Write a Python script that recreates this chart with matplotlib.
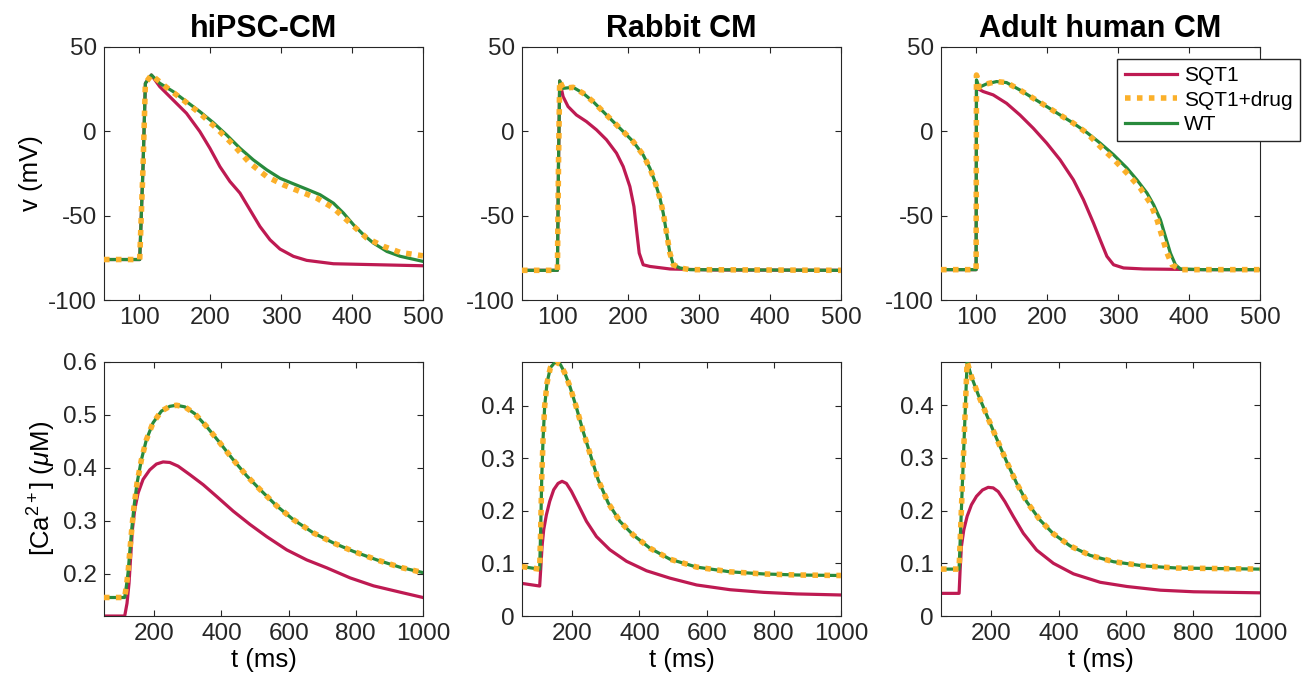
import matplotlib
matplotlib.use('Agg')
import matplotlib.pyplot as plt

plt.rcParams['font.family'] = ['Liberation Sans', 'DejaVu Sans']
plt.rcParams['mathtext.fontset'] = 'custom'
plt.rcParams['mathtext.rm'] = 'Liberation Sans'
plt.rcParams['mathtext.it'] = 'Liberation Sans:italic'
plt.rcParams['axes.unicode_minus'] = False

# ---- data ----
titles = ['hiPSC-CM', 'Rabbit CM', 'Adult human CM']
labels = ['SQT1', 'SQT1+drug', 'WT']

# membrane potential (mV), hiPSC-CM
hi_v_t_wt = [50, 100.4, 105.1, 108.4, 116.9, 128.7, 147.5, 166.4, 185.2, 204.1, 222.9, 241.8, 260.6, 279.5,
             298.3, 317.2, 336, 354.9, 373.7, 387.9, 402, 416.1, 430.3, 449.1, 468, 500]
hi_v_wt = [-76, -76, -20.9, 28.5, 33.4, 28.5, 23.6, 17.6, 11.7, 5.2, -2.1, -10, -16.9, -22.8,
           -27.8, -31.1, -34.3, -37.6, -42.6, -48.5, -55.4, -61.3, -66.3, -71.2, -74.1, -77.1]
hi_v_t_drug = [50, 100.4, 105.1, 108.4, 116.9, 138.1, 161.7, 185.2, 208.8, 232.4, 255.9, 279.5, 303, 326.6,
               350.2, 373.7, 397.3, 420.8, 444.4, 468, 500]
hi_v_drug = [-76, -76, -20.9, 28.5, 33.4, 26.1, 18.6, 10.7, 1.8, -8, -18.9, -26.8, -31.7, -35.7,
             -39.6, -45.5, -54.4, -63.3, -68.2, -71.8, -73.8]
hi_v_t_sqt = [50, 100.4, 105.1, 108.4, 116.9, 128.7, 147.5, 166.4, 185.2, 199.4, 213.5, 227.6, 241.8, 255.9,
              270, 284.2, 298.3, 317.2, 336, 373.7, 500]
hi_v_sqt = [-76, -76, -20.9, 28.5, 33.4, 26.5, 18.6, 10.7, -0.1, -10, -20.9, -29.7, -36.6, -46.5,
            -56.4, -64.3, -69.8, -74.1, -76.5, -78.5, -79.7]

# membrane potential (mV), rabbit CM
rb_v_t_wt = [50, 100, 101.5, 103.2, 108, 122.1, 136.2, 150.4, 164.5, 178.6, 192.8, 206.9, 221, 230.5, 237.5,
             244.6, 249.3, 254, 258.7, 263.5, 272.9, 287, 500]
rb_v_wt = [-82.4, -82.4, -20, 29.9, 25.5, 26.1, 22.6, 17.6, 11.7, 5.8, -0.1, -6.1, -14, -21.9, -29.7,
           -39.6, -48.5, -60.3, -72.2, -79.1, -81, -82, -82.4]
rb_v_drug = rb_v_wt
rb_v_t_sqt = [50, 100, 101.5, 103.2, 108, 115, 126.8, 140.9, 155.1, 169.2, 183.3, 192.8, 202.2, 207.9,
              211.6, 215.4, 221, 230.5, 258.7, 320, 500]
rb_v_sqt = [-82.4, -82.4, -20, 29.9, 20.6, 14.7, 9.7, 5.8, 0.9, -5, -12.9, -20.9, -32.7, -44.5,
            -58.4, -72.2, -79.1, -80.1, -81.6, -82.2, -82.4]

# membrane potential (mV), adult human CM
ad_v_t_wt = [50, 99.5, 100, 103.8, 114.2, 128.3, 142.5, 161.3, 180.2, 199.1, 218, 236.8, 255.7, 274.5,
             293.4, 312.3, 326.4, 340.6, 350, 359.5, 366.5, 373.6, 380.7, 387.7, 420, 500]
ad_v_wt = [-82, -82, 30.5, 26.1, 28.1, 29.5, 28.9, 24.5, 19.6, 14.7, 9.7, 4.8, -0.7, -7,
           -13.9, -21.8, -28.8, -36.6, -43.6, -52.4, -62.3, -72.2, -79.1, -81.6, -82, -82]
ad_v_t_drug = [50, 99.5, 100, 103.8, 114.2, 128.3, 142.5, 161.3, 180.2, 199.1, 218, 236.8, 255.7, 274.5,
               293.4, 312.3, 331.1, 345.3, 354.7, 361.8, 368.9, 375.9, 387.7, 420, 500]
ad_v_drug = [-82, -82, 33.4, 26.1, 28.1, 29.5, 28.9, 24.5, 19.6, 14.7, 9.7, 4.8, -1, -9,
             -16.5, -24.8, -33.7, -42.6, -52.4, -62.3, -72.2, -79.1, -82, -82, -82]
ad_v_t_sqt = [50, 99.5, 100, 101, 109.4, 123.6, 142.5, 161.3, 180.2, 199.1, 218, 236.8, 251, 265.1,
              274.5, 284, 293.4, 307.5, 335.8, 420, 500]
ad_v_sqt = [-82, -82, 26, 25.5, 23.6, 21.6, 16.6, 9.7, 1.8, -7, -16.9, -28.8, -40.6, -54.4,
            -64.3, -74.1, -79.1, -81, -81.6, -82, -82]

# cytosolic calcium (uM), hiPSC-CM
hi_ca_t_wt = [50, 111.7, 116.6, 121.6, 126.6, 132.6, 139.5, 148.5, 161.4, 176.3, 196.2, 221.1, 246, 265.9,
              290.7, 320.6, 355.4, 395.2, 435, 474.8, 514.6, 564.3, 614.1, 673.7, 733.4, 793.1, 862.7, 932.4, 1000]
hi_ca_wt = [0.155, 0.155, 0.176, 0.201, 0.239, 0.283, 0.327, 0.371, 0.415, 0.453, 0.485, 0.507, 0.516, 0.518,
            0.515, 0.502, 0.478, 0.447, 0.415, 0.385, 0.359, 0.328, 0.302, 0.277, 0.258, 0.242, 0.226, 0.212, 0.202]
hi_ca_drug = hi_ca_wt
hi_ca_t_sqt = [50, 111.7, 118.6, 124.6, 129.6, 134.6, 141.5, 151.5, 166.4, 186.3, 206.2, 226.1, 246, 270.8,
               305.7, 345.5, 385.3, 435, 484.7, 534.5, 594.2, 653.8, 713.5, 783.2, 852.8, 932.4, 1000]
hi_ca_sqt = [0.12, 0.12, 0.144, 0.182, 0.233, 0.283, 0.321, 0.352, 0.378, 0.396, 0.407, 0.411, 0.41, 0.403,
             0.387, 0.368, 0.346, 0.318, 0.293, 0.27, 0.245, 0.226, 0.211, 0.192, 0.177, 0.165, 0.155]

# cytosolic calcium (uM), rabbit CM
rb_ca_t_wt = [50, 102.7, 105.7, 108.7, 112.7, 117.6, 124.6, 134.6, 149.5, 164.4, 177.3, 192.3, 212.2, 232,
              252, 276.8, 306.7, 341.5, 381.3, 431, 490.7, 570.3, 669.8, 769.2, 868.7, 1000]
rb_ca_wt = [0.094, 0.089, 0.164, 0.259, 0.335, 0.399, 0.443, 0.472, 0.483, 0.478, 0.462, 0.437, 0.396, 0.351,
            0.31, 0.259, 0.215, 0.18, 0.154, 0.129, 0.108, 0.093, 0.084, 0.08, 0.078, 0.077]
rb_ca_drug = rb_ca_wt
rb_ca_t_sqt = [50, 102.7, 105.7, 109.7, 114.7, 122.6, 132.6, 144.5, 157.4, 169.4, 182.3, 197.2, 217.1, 242,
               271.8, 311.6, 361.4, 421, 490.7, 570.3, 669.8, 769.2, 868.7, 1000]
rb_ca_sqt = [0.062, 0.057, 0.088, 0.132, 0.164, 0.192, 0.218, 0.24, 0.252, 0.256, 0.252, 0.237, 0.212, 0.18,
             0.151, 0.126, 0.104, 0.086, 0.072, 0.059, 0.05, 0.045, 0.042, 0.04]

# cytosolic calcium (uM), adult human CM
ad_ca_t_wt = [50, 103.8, 127.7, 140.6, 160.5, 185.4, 215.3, 245.2, 275, 304.9, 344.8, 384.6, 434.4, 494.1,
              563.8, 653.4, 753, 1000]
ad_ca_wt = [0.089, 0.089, 0.482, 0.454, 0.42, 0.382, 0.337, 0.293, 0.252, 0.217, 0.182, 0.156, 0.133, 0.115,
            0.103, 0.095, 0.091, 0.089]
ad_ca_drug = ad_ca_wt
ad_ca_t_sqt = [50, 103.8, 106.8, 110.7, 117.7, 127.7, 140.6, 155.6, 173.5, 190.4, 205.3, 220.3, 240.2, 265.1,
               295, 334.8, 384.6, 444.3, 524, 603.7, 703.3, 802.8, 1000]
ad_ca_sqt = [0.043, 0.043, 0.087, 0.132, 0.163, 0.189, 0.211, 0.227, 0.239, 0.244, 0.243, 0.236, 0.217, 0.189,
             0.157, 0.125, 0.1, 0.08, 0.064, 0.056, 0.049, 0.046, 0.044]

v_data = [
    (hi_v_t_sqt, hi_v_sqt, hi_v_t_drug, hi_v_drug, hi_v_t_wt, hi_v_wt),
    (rb_v_t_sqt, rb_v_sqt, rb_v_t_wt, rb_v_drug, rb_v_t_wt, rb_v_wt),
    (ad_v_t_sqt, ad_v_sqt, ad_v_t_drug, ad_v_drug, ad_v_t_wt, ad_v_wt),
]
ca_data = [
    (hi_ca_t_sqt, hi_ca_sqt, hi_ca_t_wt, hi_ca_drug, hi_ca_t_wt, hi_ca_wt),
    (rb_ca_t_sqt, rb_ca_sqt, rb_ca_t_wt, rb_ca_drug, rb_ca_t_wt, rb_ca_wt),
    (ad_ca_t_sqt, ad_ca_sqt, ad_ca_t_wt, ad_ca_drug, ad_ca_t_wt, ad_ca_wt),
]
ca_ylims = [(0.12, 0.6), (0, 0.483), (0, 0.482)]
ca_yticks = [[0.2, 0.3, 0.4, 0.5, 0.6], [0, 0.1, 0.2, 0.3, 0.4], [0, 0.1, 0.2, 0.3, 0.4]]

c_sqt = '#BE1A52'
c_drug = '#FBB02A'
c_wt = '#288A3C'


def draw(ax, d):
    ts, ys, td, yd, tw, yw = d
    ax.plot(ts, ys, color=c_sqt, lw=2.3, label=labels[0], zorder=2)
    ax.plot(td, yd, color=c_drug, lw=4.0, linestyle=(0, (1.0, 1.15)),
            dash_capstyle='butt', label=labels[1], zorder=4)
    ax.plot(tw, yw, color=c_wt, lw=2.3, label=labels[2], zorder=3)


def style(ax):
    ax.tick_params(direction='in', length=4, width=0.8, labelsize=17.5, top=True, right=True,
                   colors='#262626', labelcolor='#262626', pad=5)
    for s in ax.spines.values():
        s.set_color('#262626')
        s.set_linewidth(0.8)


fig = plt.figure(figsize=(13.03, 6.87), dpi=100)
lefts = [0.0798, 0.4006, 0.7222]
w = 0.2448

for i in range(3):
    ax = fig.add_axes([lefts[i], 0.5633, w, 0.3683])
    draw(ax, v_data[i])
    ax.set_xlim(50, 500)
    ax.set_ylim(-100, 50)
    ax.set_xticks([100, 200, 300, 400, 500])
    ax.set_yticks([-100, -50, 0, 50])
    ax.set_title(titles[i], fontsize=22, fontweight='bold', pad=7)
    style(ax)
    if i == 0:
        ax.set_ylabel('v (mV)', fontsize=18.5, labelpad=4)
    if i == 2:
        ax.legend(loc='upper left', bbox_to_anchor=(0.553, 0.952), fontsize=15,
                  fancybox=False, edgecolor='#262626', framealpha=1,
                  handlelength=2.5, borderpad=0.35, labelspacing=0.25,
                  handletextpad=0.35, borderaxespad=0)

    ax2 = fig.add_axes([lefts[i], 0.1033, w, 0.370])
    draw(ax2, ca_data[i])
    ax2.set_xlim(50, 1000)
    ax2.set_ylim(*ca_ylims[i])
    ax2.set_xticks([200, 400, 600, 800, 1000])
    ax2.set_yticks(ca_yticks[i])
    ax2.set_yticklabels([('%g' % v) for v in ca_yticks[i]])
    ax2.set_xlabel('t (ms)', fontsize=18.5, labelpad=2)
    style(ax2)
    if i == 0:
        ax2.set_ylabel(r'[Ca$^{2+}$] ($\mu$M)', fontsize=18.5, labelpad=4)

fig.savefig('out.png', dpi=100)
